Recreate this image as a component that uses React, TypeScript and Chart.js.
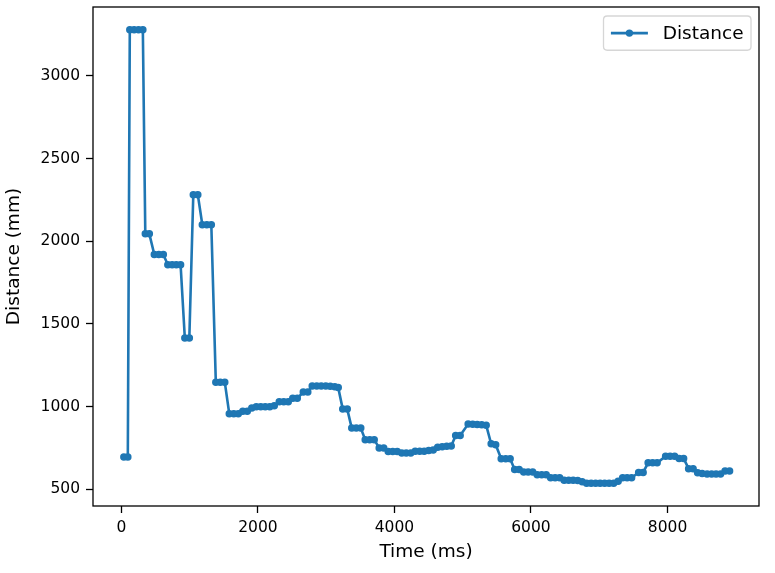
import React, { useEffect, useRef } from "react";
import { Chart, registerables } from "chart.js";

Chart.register(...registerables);

// ---- data ----
const timeMs = [
  37, 95,
  124, 187, 252, 315,
  351, 410,
  483, 549, 615,
  681, 744, 805, 868,
  930, 996,
  1054, 1120,
  1186, 1252, 1318,
  1384, 1449, 1515,
  1581, 1647, 1713,
  1779, 1845,
  1911, 1977, 2042, 2108, 2174, 2240,
  2313, 2379, 2445,
  2511, 2577,
  2665, 2731,
  2796, 2862, 2928, 2994, 3060, 3126, 3177,
  3243, 3309,
  3375, 3441, 3507,
  3572, 3638, 3704,
  3777, 3843,
  3909, 3975, 4041,
  4107, 4173, 4239,
  4304, 4370, 4436, 4502, 4568,
  4634, 4700, 4766, 4832,
  4897, 4963,
  5080, 5146, 5212, 5278, 5344,
  5417, 5483,
  5564, 5630, 5695,
  5761, 5827,
  5893, 5959, 6025,
  6091, 6157, 6223,
  6288, 6354, 6420,
  6486, 6552, 6618, 6684,
  6750,
  6815, 6881, 6947, 7013, 7079, 7145, 7211,
  7277,
  7343, 7408, 7474,
  7577, 7643,
  7716, 7782, 7848,
  7972, 8038, 8104,
  8170, 8236,
  8309, 8375,
  8441, 8507,
  8580, 8646, 8711, 8777,
  8843, 8909,
];
const distanceMm = [
  695, 695,
  3280, 3280, 3280, 3280,
  2045, 2045,
  1920, 1920, 1920,
  1858, 1858, 1858, 1858,
  1415, 1415,
  2282, 2282,
  2100, 2100, 2100,
  1148, 1148, 1148,
  957, 957, 957,
  972, 972,
  992, 1000, 1000, 1000, 1000, 1005,
  1030, 1030, 1030,
  1050, 1050,
  1088, 1088,
  1125, 1125, 1125, 1125, 1124, 1120, 1115,
  985, 985,
  870, 870, 870,
  800, 800, 800,
  750, 750,
  728, 728, 728,
  720, 720, 720,
  730, 730, 730, 735, 738,
  755, 757, 760, 762,
  825, 825,
  895, 893, 892, 890, 888,
  775, 770,
  685, 685, 685,
  620, 620,
  605, 605, 605,
  588, 588, 588,
  570, 570, 570,
  555, 555, 555, 553,
  545,
  536, 536, 536, 536, 536, 536, 536,
  548,
  570, 570, 570,
  602, 602,
  660, 660, 660,
  700, 700, 700,
  687, 687,
  625, 625,
  600, 595,
  593, 593, 593, 593,
  610, 610,
];
const xTickValues = [0, 2000, 4000, 6000, 8000];
const yTickValues = [500, 1000, 1500, 2000, 2500, 3000];
const seriesLabel = "Distance";
const xTitle = "Time (ms)";
const yTitle = "Distance (mm)";

// ---- style ----
const BLUE = "#1f77b4";
const FONT = "'DejaVu Sans', sans-serif";
const FS_LABEL = 18.5;
const FS_TICK = 15.5;

const framePlugin = {
  id: "mplFrame",
  afterDraw(chart: any) {
    const { ctx, chartArea: a } = chart;
    ctx.save();
    ctx.strokeStyle = "#000";
    ctx.lineWidth = 1.3;
    ctx.strokeRect(a.left, a.top, a.right - a.left, a.bottom - a.top);

    // legend (matplotlib style, upper right)
    const FS = FS_LABEL;
    const right = a.right - 8;
    const top = a.top + 9;
    ctx.font = `${FS}px ${FONT}`;
    const tw = ctx.measureText(seriesLabel).width;
    const pad = 0.4 * FS;
    const handle = 2.0 * FS;
    const gap = 0.8 * FS;
    const w = pad * 2 + handle + gap + tw;
    const h = pad * 2 + FS * 1.05;
    const left = right - w;
    const r = 0.2 * FS;
    ctx.beginPath();
    ctx.moveTo(left + r, top);
    ctx.lineTo(right - r, top);
    ctx.quadraticCurveTo(right, top, right, top + r);
    ctx.lineTo(right, top + h - r);
    ctx.quadraticCurveTo(right, top + h, right - r, top + h);
    ctx.lineTo(left + r, top + h);
    ctx.quadraticCurveTo(left, top + h, left, top + h - r);
    ctx.lineTo(left, top + r);
    ctx.quadraticCurveTo(left, top, left + r, top);
    ctx.closePath();
    ctx.fillStyle = "rgba(255,255,255,0.8)";
    ctx.fill();
    ctx.strokeStyle = "#d6d6d6";
    ctx.lineWidth = 1.3;
    ctx.stroke();

    const cy = top + h / 2;
    const hx0 = left + pad;
    ctx.strokeStyle = BLUE;
    ctx.lineWidth = 2.6;
    ctx.beginPath();
    ctx.moveTo(hx0, cy);
    ctx.lineTo(hx0 + handle, cy);
    ctx.stroke();
    ctx.fillStyle = BLUE;
    ctx.beginPath();
    ctx.arc(hx0 + handle / 2, cy, 3.7, 0, Math.PI * 2);
    ctx.fill();

    ctx.fillStyle = "#000";
    ctx.textBaseline = "middle";
    ctx.textAlign = "left";
    ctx.fillText(seriesLabel, hx0 + handle + gap, cy + 1);
    ctx.restore();
  },
};

export default function App() {
  const ref = useRef<HTMLCanvasElement | null>(null);

  useEffect(() => {
    if (!ref.current) return;
    const points = timeMs.map((t, i) => ({ x: t, y: distanceMm[i] }));
    const tickFont = { family: FONT, size: FS_TICK };
    const titleFont = { family: FONT, size: FS_LABEL };
    const chart = new Chart(ref.current, {
      type: "scatter",
      data: {
        datasets: [
          {
            label: seriesLabel,
            data: points,
            showLine: true,
            borderColor: BLUE,
            backgroundColor: BLUE,
            borderWidth: 2.6,
            pointRadius: 3,
            pointBorderWidth: 1.5,
            pointBorderColor: BLUE,
            pointBackgroundColor: BLUE,
            pointHoverRadius: 3,
            tension: 0,
          },
        ],
      },
      options: {
        animation: false,
        responsive: false,
        maintainAspectRatio: false,
        devicePixelRatio: 1,
        layout: { padding: { left: 0, top: 7, right: 16, bottom: 0 } },
        plugins: {
          legend: { display: false },
          tooltip: { enabled: false },
          title: { display: false },
        },
        scales: {
          x: {
            type: "linear",
            min: -415,
            max: 9340,
            afterFit: (s: any) => {
              s.height = 67;
              s.paddingLeft = 0;
              s.paddingRight = 0;
            },
            afterBuildTicks: (s: any) => {
              s.ticks = xTickValues.map((v) => ({ value: v }));
            },
            ticks: {
              font: tickFont,
              color: "#000",
              padding: 6,
              maxRotation: 0,
              callback: (v: any) => String(v),
            },
            grid: {
              drawOnChartArea: false,
              drawTicks: true,
              tickLength: 7,
              tickWidth: 1.3,
              tickColor: "#000",
            },
            border: { display: false },
            title: {
              display: true,
              text: xTitle,
              color: "#000",
              font: titleFont,
              padding: { top: 0, bottom: 10 },
            },
          },
          y: {
            type: "linear",
            min: 399,
            max: 3417,
            afterFit: (s: any) => {
              s.width = 93;
              s.paddingTop = 0;
              s.paddingBottom = 0;
            },
            afterBuildTicks: (s: any) => {
              s.ticks = yTickValues.map((v) => ({ value: v }));
            },
            ticks: {
              font: tickFont,
              color: "#000",
              padding: 6,
              callback: (v: any) => String(v),
            },
            grid: {
              drawOnChartArea: false,
              drawTicks: true,
              tickLength: 7,
              tickWidth: 1.3,
              tickColor: "#000",
            },
            border: { display: false },
            title: {
              display: true,
              text: yTitle,
              color: "#000",
              font: titleFont,
              padding: { top: 3, bottom: 0 },
            },
          },
        },
      },
      plugins: [framePlugin],
    });
    return () => chart.destroy();
  }, []);

  return (
    <div
      style={{
        position: "fixed",
        left: 0,
        top: 0,
        width: 775,
        height: 573,
        background: "#fff",
      }}
    >
      <canvas ref={ref} width={775} height={573} style={{ width: 775, height: 573 }} />
    </div>
  );
}
